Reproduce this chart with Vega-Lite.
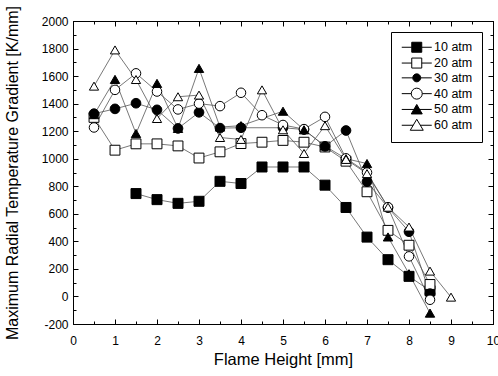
{
  "$schema": "https://vega.github.io/schema/vega-lite/v6.json",
  "width": 420,
  "height": 303,
  "autosize": {"type": "none"},
  "padding": {"left": 73, "top": 21, "right": 5, "bottom": 52},
  "config": {
    "font": "Liberation Sans",
    "view": {"stroke": "black", "strokeWidth": 1},
    "axis": {"grid": false, "domainColor": "black", "tickColor": "black", "labelColor": "black", "titleColor": "black", "labelFontSize": 12, "titleFontWeight": "normal", "labelFont": "Liberation Sans", "titleFont": "Liberation Sans"}
  },
  "data": {"values": [
    {"p": "10 atm", "x": 1.5, "y": 747}, {"p": "10 atm", "x": 2, "y": 703}, {"p": "10 atm", "x": 2.5, "y": 676}, {"p": "10 atm", "x": 3, "y": 691}, {"p": "10 atm", "x": 3.5, "y": 836}, {"p": "10 atm", "x": 4, "y": 820}, {"p": "10 atm", "x": 4.5, "y": 940}, {"p": "10 atm", "x": 5, "y": 940}, {"p": "10 atm", "x": 5.5, "y": 940}, {"p": "10 atm", "x": 6, "y": 808}, {"p": "10 atm", "x": 6.5, "y": 646}, {"p": "10 atm", "x": 7, "y": 431}, {"p": "10 atm", "x": 7.5, "y": 267}, {"p": "10 atm", "x": 8, "y": 146}, {"p": "10 atm", "x": 8.5, "y": 42},
    {"p": "20 atm", "x": 0.5, "y": 1300}, {"p": "20 atm", "x": 1, "y": 1062}, {"p": "20 atm", "x": 1.5, "y": 1108}, {"p": "20 atm", "x": 2, "y": 1108}, {"p": "20 atm", "x": 2.5, "y": 1093}, {"p": "20 atm", "x": 3, "y": 1005}, {"p": "20 atm", "x": 3.5, "y": 1050}, {"p": "20 atm", "x": 4, "y": 1110}, {"p": "20 atm", "x": 4.5, "y": 1120}, {"p": "20 atm", "x": 5, "y": 1133}, {"p": "20 atm", "x": 5.5, "y": 1120}, {"p": "20 atm", "x": 6, "y": 1085}, {"p": "20 atm", "x": 6.5, "y": 982}, {"p": "20 atm", "x": 7, "y": 760}, {"p": "20 atm", "x": 7.5, "y": 480}, {"p": "20 atm", "x": 8, "y": 372}, {"p": "20 atm", "x": 8.5, "y": 87},
    {"p": "30 atm", "x": 0.5, "y": 1327}, {"p": "30 atm", "x": 1, "y": 1362}, {"p": "30 atm", "x": 1.5, "y": 1403}, {"p": "30 atm", "x": 2, "y": 1355}, {"p": "30 atm", "x": 2.5, "y": 1220}, {"p": "30 atm", "x": 3, "y": 1337}, {"p": "30 atm", "x": 3.5, "y": 1222}, {"p": "30 atm", "x": 4, "y": 1225}, {"p": "30 atm", "x": 5, "y": 1225}, {"p": "30 atm", "x": 5.5, "y": 1212}, {"p": "30 atm", "x": 6, "y": 1090}, {"p": "30 atm", "x": 6.5, "y": 1205}, {"p": "30 atm", "x": 7, "y": 833}, {"p": "30 atm", "x": 7.5, "y": 645}, {"p": "30 atm", "x": 8, "y": 470}, {"p": "30 atm", "x": 8.5, "y": 20},
    {"p": "40 atm", "x": 0.5, "y": 1227}, {"p": "40 atm", "x": 1, "y": 1500}, {"p": "40 atm", "x": 1.5, "y": 1620}, {"p": "40 atm", "x": 2, "y": 1488}, {"p": "40 atm", "x": 2.5, "y": 1358}, {"p": "40 atm", "x": 3, "y": 1400}, {"p": "40 atm", "x": 3.5, "y": 1382}, {"p": "40 atm", "x": 4, "y": 1479}, {"p": "40 atm", "x": 4.5, "y": 1316}, {"p": "40 atm", "x": 5, "y": 1245}, {"p": "40 atm", "x": 5.5, "y": 1215}, {"p": "40 atm", "x": 6, "y": 1304}, {"p": "40 atm", "x": 6.5, "y": 1003}, {"p": "40 atm", "x": 7, "y": 900}, {"p": "40 atm", "x": 7.5, "y": 648}, {"p": "40 atm", "x": 8, "y": 291}, {"p": "40 atm", "x": 8.5, "y": -24},
    {"p": "50 atm", "x": 0.5, "y": 1320}, {"p": "50 atm", "x": 1, "y": 1576}, {"p": "50 atm", "x": 1.5, "y": 1183}, {"p": "50 atm", "x": 2, "y": 1547}, {"p": "50 atm", "x": 2.5, "y": 1220}, {"p": "50 atm", "x": 3, "y": 1656}, {"p": "50 atm", "x": 3.5, "y": 1230}, {"p": "50 atm", "x": 4, "y": 1240}, {"p": "50 atm", "x": 5, "y": 1345}, {"p": "50 atm", "x": 5.5, "y": 1210}, {"p": "50 atm", "x": 6, "y": 1092}, {"p": "50 atm", "x": 6.5, "y": 1000}, {"p": "50 atm", "x": 7, "y": 965}, {"p": "50 atm", "x": 7.5, "y": 432}, {"p": "50 atm", "x": 8, "y": 165}, {"p": "50 atm", "x": 8.5, "y": -121},
    {"p": "60 atm", "x": 0.5, "y": 1527}, {"p": "60 atm", "x": 1, "y": 1790}, {"p": "60 atm", "x": 1.5, "y": 1575}, {"p": "60 atm", "x": 2, "y": 1292}, {"p": "60 atm", "x": 2.5, "y": 1450}, {"p": "60 atm", "x": 3, "y": 1462}, {"p": "60 atm", "x": 3.5, "y": 1154}, {"p": "60 atm", "x": 4, "y": 1140}, {"p": "60 atm", "x": 4.5, "y": 1500}, {"p": "60 atm", "x": 5, "y": 1210}, {"p": "60 atm", "x": 5.5, "y": 1038}, {"p": "60 atm", "x": 6, "y": 1240}, {"p": "60 atm", "x": 6.5, "y": 995}, {"p": "60 atm", "x": 7, "y": 892}, {"p": "60 atm", "x": 7.5, "y": 648}, {"p": "60 atm", "x": 8, "y": 504}, {"p": "60 atm", "x": 8.5, "y": 184}, {"p": "60 atm", "x": 9, "y": -5}
  ]},
  "layer": [
    {
      "mark": {"type": "line", "strokeWidth": 0.8, "color": "#555555"},
      "encoding": {
        "x": {"field": "x", "type": "quantitative", "scale": {"domain": [0, 10], "nice": false, "zero": false},
          "axis": {"title": "Flame Height [mm]", "titleFontSize": 16.5, "values": [0, 0.5, 1, 1.5, 2, 2.5, 3, 3.5, 4, 4.5, 5, 5.5, 6, 6.5, 7, 7.5, 8, 8.5, 9, 9.5, 10],
            "labelExpr": "datum.value % 1 === 0 ? toString(datum.value) : ''",
            "tickSize": {"condition": {"test": "datum.value % 1 === 0", "value": -5}, "value": -3},
            "labelPadding": 16, "titlePadding": 5, "labelFlush": false}},
        "y": {"field": "y", "type": "quantitative", "scale": {"domain": [-200, 2000], "nice": false, "zero": false},
          "axis": {"title": "Maximum Radial Temperature Gradient [K/mm]", "titleFontSize": 16, "values": [-200, -100, 0, 100, 200, 300, 400, 500, 600, 700, 800, 900, 1000, 1100, 1200, 1300, 1400, 1500, 1600, 1700, 1800, 1900, 2000],
            "labelExpr": "datum.value % 200 === 0 ? toString(datum.value) : ''",
            "tickSize": {"condition": {"test": "datum.value % 200 === 0", "value": -5}, "value": -3},
            "labelPadding": 10, "titlePadding": 21, "labelFlush": false}},
        "detail": {"field": "p", "type": "nominal"}
      }
    },
    {
      "mark": {"type": "point", "filled": true, "stroke": "black", "strokeWidth": 1, "opacity": 1},
      "encoding": {
        "x": {"field": "x", "type": "quantitative", "axis": null},
        "y": {"field": "y", "type": "quantitative", "axis": null},
        "shape": {"field": "p", "type": "nominal", "scale": {"range": ["square", "square", "circle", "circle", "triangle-up", "triangle-up"]}, "legend": null},
        "fill": {"field": "p", "type": "nominal", "scale": {"range": ["black", "white", "black", "white", "black", "white"]}, "legend": null},
        "size": {"field": "p", "type": "nominal", "scale": {"range": [100, 85, 55, 95, 80, 150]}, "legend": null}
      }
    },
    {
      "mark": {"type": "point", "opacity": 0},
      "encoding": {
        "x": {"field": "x", "type": "quantitative",
          "axis": {"orient": "top", "title": null, "labels": false, "values": [0, 0.5, 1, 1.5, 2, 2.5, 3, 3.5, 4, 4.5, 5, 5.5, 6, 6.5, 7, 7.5, 8, 8.5, 9, 9.5, 10],
            "tickSize": {"condition": {"test": "datum.value % 1 === 0", "value": -5}, "value": -3}}},
        "y": {"field": "y", "type": "quantitative",
          "axis": {"orient": "right", "title": null, "labels": false, "values": [-200, -100, 0, 100, 200, 300, 400, 500, 600, 700, 800, 900, 1000, 1100, 1200, 1300, 1400, 1500, 1600, 1700, 1800, 1900, 2000],
            "tickSize": {"condition": {"test": "datum.value % 200 === 0", "value": -5}, "value": -3}}}
      }
    },
    {
      "transform": [{"filter": "datum.x > 100"}],
      "mark": {"type": "point", "filled": true, "stroke": "black", "strokeWidth": 1, "size": 100},
      "encoding": {
        "x": {"field": "x", "type": "quantitative", "axis": null},
        "y": {"field": "y", "type": "quantitative", "axis": null},
        "shape": {"field": "p", "type": "nominal",
          "scale": {"domain": ["10 atm", "20 atm", "30 atm", "40 atm", "50 atm", "60 atm"],
            "range": [
              "M-3,0H-1M1,0H3M-1,-1H1V1H-1Z",
              "M-3,0H-1M1,0H3M-1,-1H1V1H-1Z",
              "M-3,0H-0.8M0.8,0H3M-0.8,0A0.8,0.8,0,1,0,0.8,0A0.8,0.8,0,1,0,-0.8,0Z",
              "M-3,0H-1.1M1.1,0H3M-1.1,0A1.1,1.1,0,1,0,1.1,0A1.1,1.1,0,1,0,-1.1,0Z",
              "M-3,0H3M0,-1L1.1,0.9H-1.1Z",
              "M-3,0H-0.71M0.71,0H3M0,-1.2L1.3,1H-1.3Z"
            ]},
          "legend": {"title": null, "orient": "none", "legendX": 318, "legendY": 11, "padding": 9, "strokeColor": "black", "symbolOffset": 10.5, "labelOffset": 11, "labelFontSize": 12.5, "labelColor": "black", "labelFont": "Liberation Sans", "rowPadding": 0.8, "symbolStrokeColor": "black", "symbolStrokeWidth": 1, "symbolSize": 100, "symbolOpacity": 1,
            "encode": {"symbols": {"update": {"stroke": {"value": "black"}, "strokeWidth": {"value": 1}}}}}},
        "fill": {"field": "p", "type": "nominal",
          "scale": {"domain": ["10 atm", "20 atm", "30 atm", "40 atm", "50 atm", "60 atm"], "range": ["black", "white", "black", "white", "black", "white"]},
          "legend": {"title": null, "orient": "none", "legendX": 318, "legendY": 11, "padding": 9, "strokeColor": "black", "symbolOffset": 10.5, "labelOffset": 11, "labelFontSize": 12.5, "labelColor": "black", "labelFont": "Liberation Sans", "rowPadding": 0.8, "symbolStrokeColor": "black", "symbolStrokeWidth": 1, "symbolSize": 100, "symbolOpacity": 1,
            "encode": {"symbols": {"update": {"stroke": {"value": "black"}, "strokeWidth": {"value": 1}}}}}}
      }
    }
  ],
  "resolve": {"axis": {"x": "independent", "y": "independent"}, "scale": {"shape": "independent", "fill": "independent", "size": "independent"}}
}
